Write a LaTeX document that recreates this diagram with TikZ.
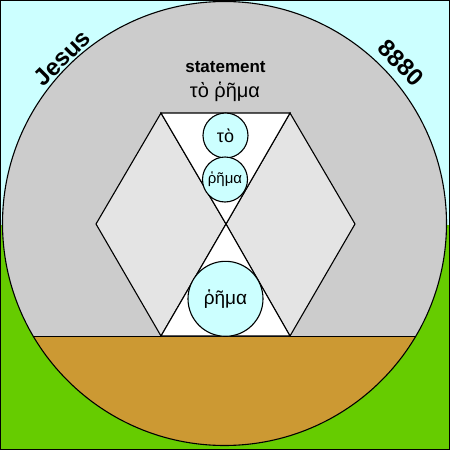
\documentclass[tikz,border=0pt]{standalone}
\usepackage{fontspec}
\setmainfont{Liberation Sans}
\definecolor{skycyan}{HTML}{CCFFFF}
\definecolor{grassgreen}{HTML}{66CC00}
\definecolor{earthbrown}{HTML}{CC9933}
\definecolor{discgray}{HTML}{CCCCCC}
\definecolor{rhombgray}{HTML}{E4E4E4}
\tikzset{
  outline/.style={draw=black,line width=1.1pt,line join=miter},
  wordball/.style={circle,draw=black,line width=1.1pt,fill=skycyan,inner sep=0pt},
  rimword/.style={inner sep=0pt,font=\bfseries\fontsize{24}{24}\selectfont},
}

\begin{document}
\begin{tikzpicture}[x=1pt,y=-1pt]
	\useasboundingbox (0,0) rectangle (450,450);
	
	%% Sky and grass
	\fill[skycyan] (0,0) rectangle (450,225);
	\fill[grassgreen] (0,225) rectangle (450,450);
	
	%% Disc with earth segment
	\fill[discgray] (224.5,223.5) circle (222pt);
	\begin{scope}
	\clip (224.5,223.5) circle (222pt);
	\fill[earthbrown] (0,336) rectangle (450,450);
	\end{scope}
	\draw[black,line width=0.8pt] (33,336) -- (416,336);
	\draw[outline] (224.5,223.5) circle (222pt);
	
	%% Rhombi
	\filldraw[outline,fill=rhombgray] (161,113) -- (226,224) -- (161,336) -- (96,224) -- cycle;
	\filldraw[outline,fill=rhombgray] (290,113) -- (355,224) -- (290,336) -- (226,224) -- cycle;
	
	%% Hourglass
	\filldraw[outline,fill=white] (161,113) -- (290,113) -- (226,224) -- cycle;
	\filldraw[outline,fill=white] (226,224) -- (290,336) -- (161,336) -- cycle;
	
	%% Word balls
	\node[wordball,minimum size=45pt,font=\fontsize{18}{18}\selectfont] (to) at (225.5,135.5) {τὸ};
	\node[wordball,minimum size=45pt,font=\fontsize{15}{15}\selectfont] (rhema) at (225,179.5) {ῥῆμα};
	\node[wordball,minimum size=75pt,font=\fontsize{19}{19}\selectfont] (rhemabig) at (225.5,298.8) {ῥῆμα};
	
	%% Titles
	\node[anchor=base,font=\bfseries\fontsize{17}{17}\selectfont] (statement) at (225.5,72.5) {statement};
	\node[anchor=base,font=\fontsize{20}{20}\selectfont] (phrase) at (225,97) {τὸ ῥῆμα};
	\node[rimword,rotate=45] (jesus) at (62,58) {Jesus};
	\node[rimword,rotate=-45] (number) at (401,63) {8880};
	
	%% Frame
	\draw[black,line width=1pt] (0.5,0.5) rectangle (449.5,449.5);
\end{tikzpicture}
\end{document}
